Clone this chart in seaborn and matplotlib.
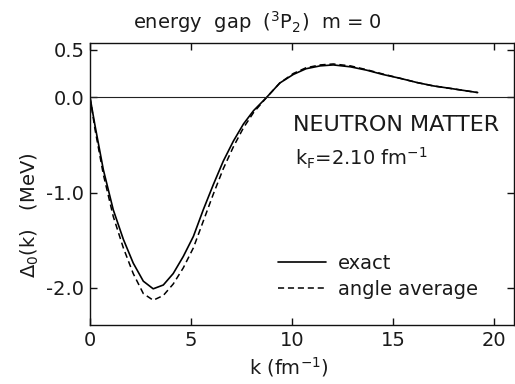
import matplotlib
matplotlib.use("Agg")
import matplotlib.pyplot as plt
import seaborn as sns
import pandas as pd

# wave number k (fm^-1) and gap function Delta_0(k) (MeV)
k_exact = [0.0, 0.25, 0.66, 1.15, 1.65, 2.14, 2.64, 3.13, 3.63, 4.12, 4.62,
           5.12, 5.61, 6.1, 6.6, 7.1, 7.6, 8.1, 8.75, 9.4, 10.07, 10.7,
           11.4, 12.05, 12.9, 13.7, 14.5, 15.35, 16.2, 17.0, 17.8, 19.2]
gap_exact = [0.0, -0.30, -0.76, -1.18, -1.49, -1.74, -1.93, -2.01, -1.97,
             -1.85, -1.67, -1.46, -1.18, -0.92, -0.67, -0.46, -0.28, -0.14,
             0.0, 0.15, 0.24, 0.30, 0.33, 0.34, 0.32, 0.285, 0.24, 0.20,
             0.155, 0.12, 0.095, 0.05]

k_avg = [0.0, 0.25, 0.66, 1.15, 1.65, 2.14, 2.64, 3.13, 3.63, 4.12, 4.62,
         5.12, 5.61, 6.1, 6.6, 7.1, 7.6, 8.1, 8.75, 9.4, 10.07, 10.7,
         11.4, 12.05, 12.9, 13.7, 14.5, 15.35, 16.2, 17.0, 17.8, 19.2]
gap_avg = [0.0, -0.34, -0.81, -1.25, -1.58, -1.85, -2.06, -2.13, -2.08,
           -1.96, -1.79, -1.58, -1.30, -1.02, -0.75, -0.52, -0.32, -0.16,
           0.0, 0.15, 0.25, 0.31, 0.34, 0.35, 0.33, 0.29, 0.245, 0.20,
           0.155, 0.12, 0.095, 0.05]

x_ticks = [0, 5, 10, 15, 20]
y_ticks = [0.5, 0.0, -1.0, -2.0]
y_ticklabels = ["0.5", "0.0", "-1.0", "-2.0"]

sns.set_theme(style="ticks")
plt.rcParams["font.family"] = ["DejaVu Sans"]
plt.rcParams["axes.unicode_minus"] = False
plt.rcParams["text.color"] = "#1a1a1a"

fig = plt.figure(figsize=(5.15, 3.84), dpi=100)
ax = fig.add_axes([0.1748, 0.1536, 0.8232, 0.7344])

df_exact = pd.DataFrame({"k": k_exact, "gap": gap_exact})
df_avg = pd.DataFrame({"k": k_avg, "gap": gap_avg})

sns.lineplot(data=df_exact, x="k", y="gap", ax=ax, color="black", lw=1.2,
             label="exact", sort=False)
sns.lineplot(data=df_avg, x="k", y="gap", ax=ax, color="black", lw=1.1,
             linestyle=(0, (4, 2.5)), label="angle average", sort=False)

ax.axhline(0.0, color="#222222", lw=0.8)

ax.set_xlim(0, 21.0)
ax.set_ylim(-2.39, 0.57)
ax.set_xticks(x_ticks)
ax.set_yticks(y_ticks)
ax.set_yticklabels(y_ticklabels)
ax.tick_params(direction="in", length=5, width=1.0, top=True, right=True,
               labelsize=14, pad=4, colors="#111111", labelcolor="#1a1a1a")
for s in ax.spines.values():
    s.set_linewidth(1.0)
    s.set_color("#111111")
ax.set_xlabel("")
ax.set_ylabel("")

ax.legend(loc="center left", bbox_to_anchor=(0.443, 0.172), frameon=False,
          fontsize=14, handlelength=2.5, handletextpad=0.57,
          labelspacing=0.34, borderaxespad=0, borderpad=0)

ax.text(10.05, -0.29, "NEUTRON MATTER", fontsize=16, va="center", ha="left")
ax.text(10.15, -0.64, r"k$_\mathregular{F}$=2.10 fm$^\mathregular{-1}$",
        fontsize=14, va="center", ha="left")

fig.text(0.5, 0.925, r"energy  gap  ($^\mathregular{3}$P$_\mathregular{2}$)  m = 0",
         fontsize=14, ha="center", va="baseline")
fig.text(0.56, 0.025, r"k (fm$^\mathregular{-1}$)", fontsize=14, ha="center",
         va="baseline")
fig.text(0.058, 0.44, r"$\Delta_\mathregular{0}$(k)   (MeV)", fontsize=14,
         ha="center", va="center", rotation=90)

fig.savefig("out.png", dpi=100)
